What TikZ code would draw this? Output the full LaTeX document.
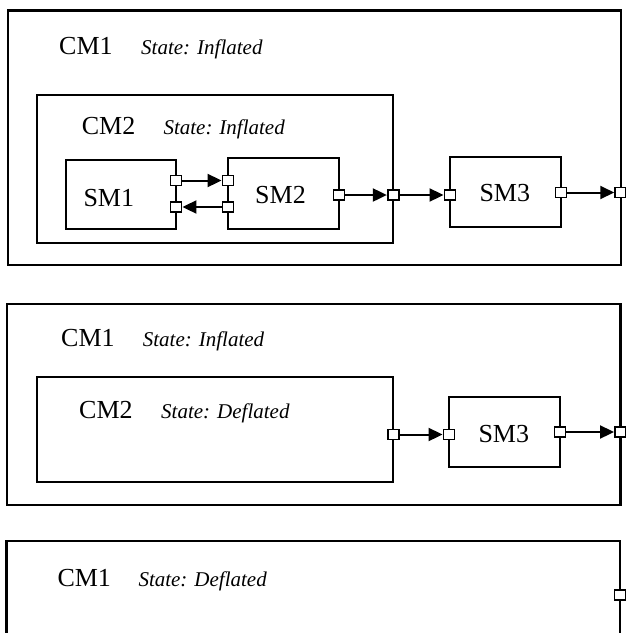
\documentclass[tikz,border=0pt]{standalone}
\usepackage{fontspec}
\setmainfont{Liberation Serif}
\usetikzlibrary{arrows.meta,fit}
\tikzset{
  box/.style={draw, line width=2.2pt, inner sep=0pt, fit={#1}},
  port/.style={draw, fill=white, line width=1.9pt, minimum width=11pt, minimum height=10pt, inner sep=0pt},
  cmtext/.style={inner sep=0pt, anchor=base west, font=\fontsize{26}{30}\selectfont},
  statetext/.style={inner sep=0pt, anchor=base west, font=\fontsize{21}{25}\selectfont\itshape},
  conn/.style={line width=2pt, -{Triangle[length=14pt,width=13pt]}}
}
\begin{document}
\begin{tikzpicture}[x=1pt,y=-1pt]
\useasboundingbox (0,0) rectangle (626,633);
% ---------- Panel 1 ----------
\node[box={(8,10.5) (620.7,265)}] (p1cm1) {};
\node[cmtext] (p1cm1t) at (59,54.5) {CM1};
\node[statetext] (p1cm1s) at (141,54.5) {State: Inflated};
\node[box={(37.3,95) (393.3,242.7)}] (p1cm2) {};
\node[cmtext] (p1cm2t) at (81.7,134.3) {CM2};
\node[statetext] (p1cm2s) at (163.3,134.3) {State: Inflated};
\node[box={(65.7,160) (176,229.3)}] (p1sm1) {};
\node[cmtext] (p1sm1t) at (83.3,206.7) {SM1};
\node[box={(228,158.3) (339,229)}] (p1sm2) {};
\node[cmtext] (p1sm2t) at (255,203) {SM2};
\node[box={(450,156.7) (561,227.3)}] (p1sm3) {};
\node[cmtext] (p1sm3t) at (479.3,201.7) {SM3};
\node[port] (p1sm1a) at (176,180.5) {};
\node[port] (p1sm1b) at (176,207) {};
\node[port] (p1sm2a) at (228,180.5) {};
\node[port] (p1sm2b) at (228,207) {};
\node[port] (p1sm2c) at (339,195) {};
\node[port] (p1cm2a) at (393.3,195) {};
\node[port] (p1sm3a) at (450,195) {};
\node[port] (p1sm3b) at (561,192.5) {};
\node[port] (p1cm1a) at (620.7,192.5) {};
\draw[conn] (p1sm1a.east) -- (p1sm2a.west);
\draw[conn] (p1sm2b.west) -- (p1sm1b.east);
\draw[conn] (p1sm2c.east) -- (p1cm2a.west);
\draw[conn] (p1cm2a.east) -- (p1sm3a.west);
\draw[conn] (p1sm3b.east) -- (p1cm1a.west);
% ---------- Panel 2 ----------
\node[box={(7.3,304) (620.5,505)}] (p2cm1) {};
\node[cmtext] (p2cm1t) at (61,346) {CM1};
\node[statetext] (p2cm1s) at (142.7,346) {State: Inflated};
\node[box={(36.7,376.7) (393.3,482.3)}] (p2cm2) {};
\node[cmtext] (p2cm2t) at (79,418.3) {CM2};
\node[statetext] (p2cm2s) at (161,418.3) {State: Deflated};
\node[box={(449,396.7) (560,467.3)}] (p2sm3) {};
\node[cmtext] (p2sm3t) at (478.3,442.3) {SM3};
\node[port] (p2cm2a) at (393.3,434.5) {};
\node[port] (p2sm3a) at (449,434.5) {};
\node[port] (p2sm3b) at (560,432) {};
\node[port] (p2cm1a) at (620.5,432) {};
\draw[conn] (p2cm2a.east) -- (p2sm3a.west);
\draw[conn] (p2sm3b.east) -- (p2cm1a.west);
% ---------- Panel 3 ----------
\node[box={(6.5,541) (620,660)}] (p3cm1) {};
\node[cmtext] (p3cm1t) at (57.3,586) {CM1};
\node[statetext] (p3cm1s) at (138.3,586) {State: Deflated};
\node[port] (p3cm1a) at (620,595) {};
\end{tikzpicture}
\end{document}
